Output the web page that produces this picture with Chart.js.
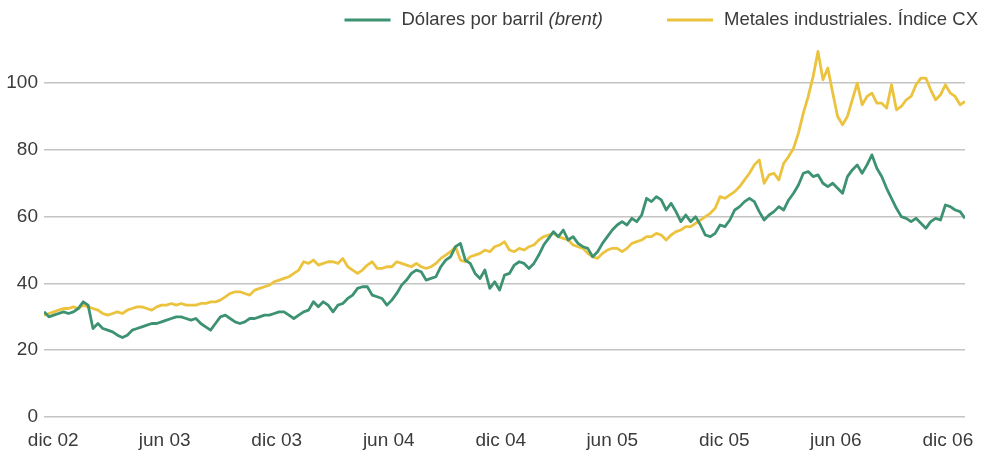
<!DOCTYPE html>
<html><head><meta charset="utf-8">
<script src="https://cdn.jsdelivr.net/npm/chart.js@4.4.1/dist/chart.umd.min.js"></script>
<style>html,body{margin:0;padding:0;background:#fff;}#wrap{width:981px;height:457px;position:relative;}</style>
</head><body><div id="wrap"><canvas id="c" width="981" height="457"></canvas></div>
<script>
// Series: one sample every 8 days starting 16 Nov 2002
const inicioSerie = '2002-11-16';
const pasoDias = 8;
const nombres = ['Dólares por barril (brent)', 'Metales industriales. Índice CX'];
const brent = [
31.5,30,30.5,31,31.5,31,31.5,32.5,34.5,33.5,
26.5,28,26.5,26,25.5,24.5,23.8,24.5,26,26.5,
27,27.5,28,28,28.5,29,29.5,30,30,29.5,
29,29.5,28,27,26,28,30,30.5,29.5,28.5,
28,28.5,29.5,29.5,30,30.5,30.5,31,31.5,31.5,
30.5,29.5,30.5,31.5,32,34.5,33,34.5,33.5,31.5,
33.5,34,35.5,36.5,38.5,39,39,36.5,36,35.5,
33.5,35,37,39.5,41,43,44,43.5,41,41.5,
42,45,47,48,51,52,47,46,43,41.5,
44,38.5,40.5,38,42.5,43,45.5,46.5,46,44.5,
46,48.5,51.5,53.5,55.5,54,56,53,54,52,
51,50.5,48,49.5,52,54,56,57.5,58.5,57.5,
59.5,58.5,60.5,65.5,64.5,66,65,62,64,61.5,
58.5,60.5,58.5,60,57.5,54.5,54,55,57.5,57,
59,62,63,64.5,65.5,64.5,61.5,59,60.5,61.5,
63,62,65,67,69.5,73,73.5,72,72.5,70,
69,70,68.5,67,72,74,75.5,73,75.5,78.5,
74.5,72,68.5,65.5,62.5,60,59.5,58.5,59.5,58,
56.5,58.5,59.5,59,63.5,63,62,61.5,59.5
];
const metales = [
30.5,31,31.5,32,32.5,32.5,33,32.5,33.5,33,
32.5,32,31,30.5,31,31.5,31,32,32.5,33,
33,32.5,32,33,33.5,33.5,34,33.5,34,33.5,
33.5,33.5,34,34,34.5,34.5,35,36,37,37.5,
37.5,37,36.5,38,38.5,39,39.5,40.5,41,41.5,
42,43,44,46.5,46,47,45.5,46,46.5,46.5,
46,47.5,45,44,43,44,45.5,46.5,44.5,44.5,
45,45,46.5,46,45.5,45,46,45,44.5,45,
46,47.5,48.5,49.5,51,47,46.5,48,48.5,49,
50,49.5,51,51.5,52.5,50,49.5,50.5,50,51,
51.5,53,54,54.5,55,54,53.5,53,51.5,51,
50.5,49,48,47.5,49,50,50.5,50.5,49.5,50.5,
52,52.5,53,54,54,55,54.5,53,54.5,55.5,
56,57,57,58,59,60,61,62.5,66,65.5,
66.5,67.5,69,71,73,75.5,77,70,72.5,73,
71,76,78,80.5,85,91,96,102,109.5,101,
104.5,97,90,87.5,90,95,100,93.5,96,97,
94,94,92.5,99.5,92,93,95,96,99.5,101.5,
101.5,98,95,96.5,99.5,97,96,93.5,94.5
];
const etiquetas = ['dic 02','jun 03','dic 03','jun 04','dic 04','jun 05','dic 05','jun 06','dic 06'];
const fechasEtiquetas = ['2002-12-01','2003-06-01','2003-12-01','2004-06-01','2004-12-01','2005-06-01','2005-12-01','2006-06-01','2006-12-01'];
const marcasY = [0,20,40,60,80,100];

const DAY = 86400000;
const base = Date.UTC(2002,11,1);
const diaDe = s => { const p = s.split('-').map(Number); return Math.round((Date.UTC(p[0],p[1]-1,p[2]) - base)/DAY); };
const dia0 = diaDe(inicioSerie);
const pts = arr => arr.map((v,i)=>({x: dia0 + i*pasoDias, y: v}));
const diasEtiquetas = fechasEtiquetas.map(diaDe);

const FONT = "'Liberation Sans', Arial, sans-serif";
const TXT = '#3b3b3b';
const colores = ['#3d9271', '#ecc33f'];

const leyenda = {
  id: 'leyenda',
  afterDraw(chart) {
    const ctx = chart.ctx;
    ctx.save();
    const size = 18.5;
    const fN = `${size}px ${FONT}`, fI = `italic ${size}px ${FONT}`;
    const parts = nombres.map(n => {
      const k = n.indexOf('(');
      return k >= 0 ? [[n.slice(0,k), fN],[n.slice(k), fI]] : [[n, fN]];
    });
    const lineW = 46, gap = 11, between = 64;
    const widths = parts.map(p => p.reduce((s,[t,f]) => { ctx.font = f; return s + ctx.measureText(t).width; }, 0));
    let total = widths.reduce((a,b)=>a+b,0) + parts.length*(lineW+gap) + between*(parts.length-1);
    let x = chart.width - 3 - total;
    const y = 20;
    parts.forEach((p, i) => {
      ctx.strokeStyle = colores[i]; ctx.lineWidth = 3;
      ctx.beginPath(); ctx.moveTo(x, y); ctx.lineTo(x+lineW, y); ctx.stroke();
      x += lineW + gap;
      ctx.fillStyle = TXT; ctx.textBaseline = 'middle'; ctx.textAlign = 'left';
      p.forEach(([t,f]) => { ctx.font = f; ctx.fillText(t, x, y); x += ctx.measureText(t).width; });
      x += between;
    });
    ctx.restore();
  }
};

new Chart(document.getElementById('c'), {
  type: 'line',
  data: { datasets: [
    { label: nombres[0], data: pts(brent), borderColor: colores[0], backgroundColor: colores[0], borderWidth: 2.8 },
    { label: nombres[1], data: pts(metales), borderColor: colores[1], backgroundColor: colores[1], borderWidth: 2.8 }
  ]},
  options: {
    responsive: false, animation: false,
    elements: { point: { radius: 0 }, line: { tension: 0, borderJoinStyle: 'round' } },
    layout: { padding: { top: 33, right: 16, left: 0, bottom: 0 } },
    plugins: { legend: { display: false }, tooltip: { enabled: false } },
    scales: {
      x: {
        type: 'linear', min: dia0, max: dia0 + (brent.length-1)*pasoDias,
        grid: { display: false, drawTicks: false }, border: { display: false },
        afterBuildTicks: s => { s.ticks = diasEtiquetas.map(v => ({ value: v })); },
        afterFit: s => { s.height = 40; s.paddingLeft = 0; s.paddingRight = 0; },
        ticks: { autoSkip: false, maxRotation: 0, padding: 12, color: TXT, font: { family: FONT, size: 19 },
          callback: v => { const k = diasEtiquetas.indexOf(v); return k >= 0 ? etiquetas[k] : ''; } }
      },
      y: {
        min: 0, max: 115,
        grid: { color: '#c4c4c4', lineWidth: 1.5, drawTicks: false }, border: { display: false },
        afterBuildTicks: s => { s.ticks = marcasY.map(v => ({ value: v })); },
        afterFit: s => { s.width = 44; s.paddingTop = 0; s.paddingBottom = 0; },
        ticks: { padding: 6, color: TXT, font: { family: FONT, size: 19 } }
      }
    }
  },
  plugins: [leyenda]
});
</script></body></html>
